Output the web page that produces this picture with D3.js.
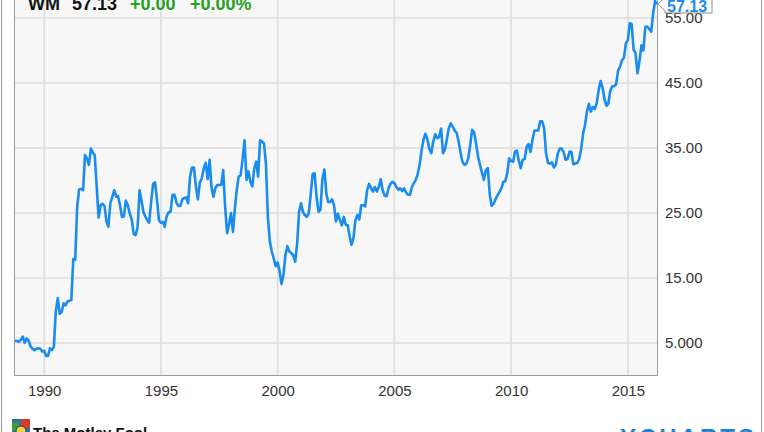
<!DOCTYPE html>
<html><head><meta charset="utf-8">
<script src="https://cdn.jsdelivr.net/npm/d3@7"></script>
<style>
html,body{margin:0;padding:0;background:#fff;}
svg{display:block;font-family:"Liberation Sans",Arial,sans-serif;}
</style></head>
<body>
<svg id="chart" width="764" height="432"></svg>
<script>
// ---- data ----
const ticker = "WM";
const lastPrice = "57.13";
const change = "+0.00";
const changePct = "+0.00%";
const startMonth = "1988-10-01"; // first monthly observation
const prices = [
5.4,5.3,5.2,5.5,6.0,5.0,5.7,5.4,4.5,4.1,3.9,4.1,4.2,4.1,3.7,3.8,3.0,3.0,4.2,3.9,
4.4,9.8,11.9,9.5,9.8,11.1,10.8,11.4,11.5,11.6,17.9,17.8,26.0,28.6,28.7,28.5,33.9,33.4,32.4,34.9,
34.3,33.9,29.1,24.3,26.2,26.4,26.1,23.7,22.9,26.5,27.5,28.5,27.5,27.6,26.2,24.4,24.5,26.9,26.2,24.9,
24.0,21.8,21.6,22.8,28.5,27.0,25.2,24.5,23.9,23.5,26.7,29.5,29.7,27.0,23.9,23.5,23.6,22.9,24.5,25.1,
25.2,27.8,27.8,26.6,26.1,26.1,27.1,27.3,27.4,26.5,30.6,32.0,32.0,29.1,27.1,29.7,30.3,31.9,32.7,30.2,
33.2,29.0,27.5,28.8,29.3,29.3,29.3,31.6,26.0,21.9,23.2,25.0,22.1,25.5,28.5,30.6,30.8,33.2,36.2,30.1,
31.4,29.8,29.1,31.9,32.9,30.6,36.2,36.0,35.7,32.7,24.4,20.6,19.1,18.0,16.8,17.4,16.0,14.1,15.5,18.5,
19.9,19.1,18.8,18.5,17.5,20.3,25.2,26.5,25.1,24.7,24.4,24.9,27.8,31.0,31.1,27.5,25.2,25.5,30.2,31.7,
28.0,26.7,26.7,27.1,26.2,23.7,24.9,23.9,23.1,24.4,23.2,23.1,21.4,20.1,21.1,23.9,24.7,24.0,26.2,26.2,
26.0,28.5,29.5,28.8,28.3,29.0,28.3,29.0,30.2,28.5,27.7,27.6,28.8,29.5,29.8,29.6,29.0,28.6,28.8,28.4,
28.8,28.2,27.8,27.8,29.0,29.6,30.1,31.0,32.5,34.6,36.3,37.2,36.3,34.9,34.2,36.0,37.1,36.5,36.7,38.0,
34.2,34.7,36.3,38.0,38.8,38.3,37.7,37.3,36.1,34.3,32.9,32.4,32.6,33.4,35.5,37.8,37.4,35.7,33.7,32.4,
31.2,30.1,31.6,31.9,27.8,26.1,26.4,27.1,27.7,28.2,28.8,29.8,29.9,31.1,33.4,33.0,32.9,34.4,34.6,33.0,
31.9,33.2,33.3,35.2,35.6,34.4,36.3,37.7,37.7,37.7,39.1,39.1,38.1,34.2,32.7,32.6,32.8,32.0,32.4,34.2,
34.9,34.9,34.4,33.2,33.3,34.4,34.4,32.5,32.6,32.7,33.3,34.9,37.3,38.5,40.6,41.8,40.6,41.3,41.0,41.9,
43.9,45.3,44.3,42.5,41.5,41.8,43.8,44.5,44.5,44.8,46.9,47.5,48.5,48.9,51.1,51.6,54.2,54.1,50.1,49.6,
46.5,48.3,50.8,50.0,53.6,53.7,53.3,52.9,55.7,57.6,57.13
];
const yTicks = [5, 15, 25, 35, 45, 55];
const yTickLabels = ["5.000", "15.00", "25.00", "35.00", "45.00", "55.00"];
const xTickYears = [1990, 1995, 2000, 2005, 2010, 2015];
const xTickLabels = ["1990", "1995", "2000", "2005", "2010", "2015"];

// ---- build ----
const parse = d3.timeParse("%Y-%m-%d");
const t0 = parse(startMonth);
const series = prices.map((v, i) => ({date: d3.timeMonth.offset(t0, i), value: v}));

const plot = {left: 14, right: 657, top: -20, bottom: 375};
const svg = d3.select("#chart");

const x = d3.scaleTime()
  .domain([series[0].date, series[series.length - 1].date])
  .range([15, 657]);
const y = d3.scaleLinear().domain([5, 55]).range([343, 18]);

// plot background
svg.append("rect").attr("x", plot.left).attr("y", plot.top)
  .attr("width", plot.right - plot.left).attr("height", plot.bottom - plot.top)
  .attr("fill", "#f7f7f7");

// grid
const grid = svg.append("g").attr("stroke", "#dcdcdc").attr("stroke-width", 1.5);
grid.selectAll("line.h").data(yTicks).join("line")
  .attr("x1", plot.left).attr("x2", plot.right)
  .attr("y1", d => y(d)).attr("y2", d => y(d));
grid.selectAll("line.v").data(xTickYears).join("line")
  .attr("x1", d => x(new Date(d, 0, 1))).attr("x2", d => x(new Date(d, 0, 1)))
  .attr("y1", plot.top).attr("y2", plot.bottom);

// borders
const border = svg.append("g").attr("stroke", "#9a9a9a").attr("stroke-width", 1).attr("fill", "none");
border.append("path").attr("d", `M${plot.left + 0.5},${plot.top}V${plot.bottom + 0.5}H${plot.right + 0.5}V${plot.top}`);
border.append("line").attr("x1", 1.5).attr("x2", 1.5).attr("y1", 0).attr("y2", 432);
border.append("line").attr("x1", 761.5).attr("x2", 761.5).attr("y1", 0).attr("y2", 432);

// line
const line = d3.line().x(d => x(d.date)).y(d => y(d.value));
svg.append("path").datum(series)
  .attr("fill", "none").attr("stroke", "#1a8cf0").attr("stroke-width", 2.6)
  .attr("stroke-linejoin", "round").attr("d", line);

// y axis labels
const yAxis = d3.axisRight(y).tickValues(yTicks)
  .tickFormat((d, i) => yTickLabels[i]).tickSize(0).tickPadding(8);
const gy = svg.append("g").attr("transform", `translate(${plot.right},0)`).call(yAxis);
gy.select(".domain").remove();
gy.selectAll("text").attr("font-size", 15).attr("fill", "#333").attr("font-family", "Liberation Sans, Arial, sans-serif");

// x axis labels
const xAxis = d3.axisBottom(x).tickValues(xTickYears.map(d => new Date(d, 0, 1)))
  .tickFormat((d, i) => xTickLabels[i]).tickSize(0).tickPadding(10);
const gx = svg.append("g").attr("transform", `translate(0,${plot.bottom})`).call(xAxis);
gx.select(".domain").remove();
gx.selectAll("text").attr("font-size", 15).attr("fill", "#333").attr("font-family", "Liberation Sans, Arial, sans-serif");

// last value callout
const last = series[series.length - 1];
const cx = x(last.date) + 1, cy = y(last.value);
svg.append("path")
  .attr("d", `M${cx},${cy} L${cx + 7},${cy - 7} V-5 H712 V13 H${cx + 7} V${cy + 7} Z`)
  .attr("fill", "#fff").attr("stroke", "#8a8a8a").attr("stroke-width", 1);
svg.append("text").attr("x", 667).attr("y", 11.5)
  .attr("font-size", 16).attr("font-weight", "bold").attr("fill", "#1a8cf0")
  .text(lastPrice);

// header
const hdr = svg.append("g").attr("font-size", 18).attr("font-weight", "bold");
hdr.append("text").attr("x", 28).attr("y", 10).attr("fill", "#111").text(ticker);
hdr.append("text").attr("x", 72).attr("y", 10).attr("fill", "#111").text(lastPrice);
hdr.append("text").attr("x", 130).attr("y", 10).attr("fill", "#1fa01f").text(change);
hdr.append("text").attr("x", 190).attr("y", 10).attr("fill", "#1fa01f").text(changePct);

// footer
const logo = svg.append("g").attr("transform", "translate(12,419)");
logo.append("rect").attr("width", 18).attr("height", 18).attr("fill", "#2a6fb8");
logo.append("rect").attr("x", 9).attr("width", 9).attr("height", 9).attr("fill", "#d63a2a");
logo.append("rect").attr("y", 3).attr("width", 7).attr("height", 9).attr("fill", "#3a9a3a");
logo.append("circle").attr("cx", 9).attr("cy", 12).attr("r", 5).attr("fill", "#f4d24a").attr("stroke", "#333");
svg.append("text").attr("x", 33).attr("y", 438).attr("font-size", 15).attr("font-weight", "bold")
  .attr("fill", "#111").text("The Motley Fool");
svg.append("text").attr("x", 620).attr("y", 446).attr("font-size", 24).attr("font-weight", "bold")
  .attr("letter-spacing", 3).attr("fill", "#1e7fd6").text("YCHARTS");
</script>
</body></html>
